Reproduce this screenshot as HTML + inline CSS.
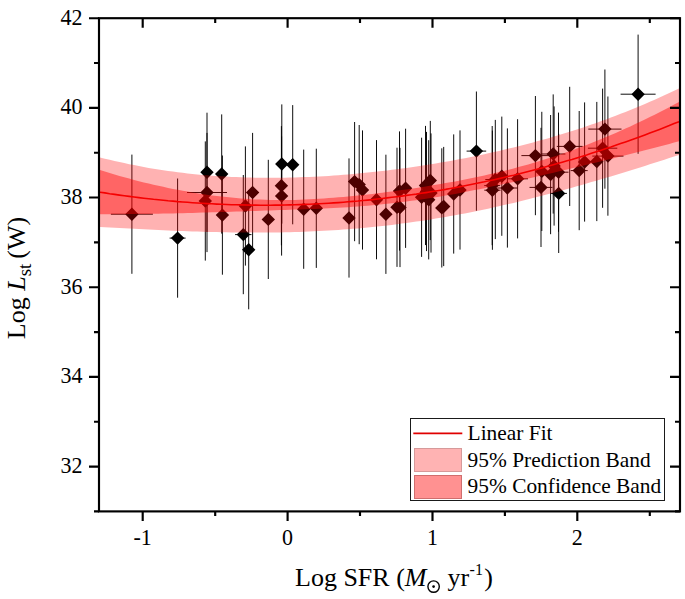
<!DOCTYPE html>
<html><head><meta charset="utf-8"><title>Log Lst vs Log SFR</title>
<style>
html,body{margin:0;padding:0;background:#fff;overflow:hidden;}
svg{display:block;font-family:"Liberation Serif",serif;fill:#000;}
</style></head>
<body>
<svg width="685" height="599" viewBox="0 0 685 599">
<rect width="685" height="599" fill="#fff"/>
<!-- error bars and markers -->
<path d="M131.9 154.6V273.8M110.9 214.2H152.9M177.6 178.5V297.7M169.6 238.1H185.6M207.0 112.7V231.9M221.7 114.4V233.6M207.0 132.9V252.1M187.0 192.5H227.0M205.3 141.4V260.6M222.4 155.5V274.7M252.6 132.9V252.1M245.4 146.4V265.6M243.3 175.0V294.2M235.1 234.6H251.5M248.7 190.1V309.3M268.3 159.8V279.0M281.8 104.4V223.6M292.7 105.1V224.3M281.4 126.1V245.3M281.6 136.4V255.6M303.7 149.6V268.8M316.3 148.7V267.9M349.0 158.4V277.6M354.6 122.0V241.2M359.2 125.0V244.2M362.5 130.4V249.6M376.5 140.1V259.3M385.9 154.7V273.9M399.5 131.4V250.6M405.6 128.7V247.9M397.0 147.7V266.9M400.0 147.9V267.1M421.6 137.7V256.9M425.5 125.9V245.1M426.5 131.9V251.1M428.7 140.2V259.4M430.3 120.9V240.1M431.0 133.4V252.6M441.8 148.3V267.5M443.7 146.9V266.1M453.7 134.4V253.6M460.0 130.4V249.6M476.4 91.5V210.7M466.6 151.1H486.2M492.4 130.6V249.8M484.3 190.2H500.5M495.3 119.9V239.1M485.3 179.5H505.3M501.8 116.6V235.8M507.4 128.4V247.6M497.2 188.0H517.6M517.6 119.2V238.4M507.2 178.8H528.0M535.4 96.0V215.2M521.4 155.6H549.4M541.0 127.8V247.0M529.5 187.4H552.5M553.2 94.4V213.6M541.0 154.0H565.4M558.7 133.8V253.0M550.5 193.4H566.9M569.7 86.8V206.0M556.8 146.4H582.6M579.2 111.0V230.2M570.7 170.6H587.7M584.6 102.4V221.6M596.8 101.9V221.1M604.9 69.5V188.7M588.3 129.1H621.5M602.6 88.6V207.8M587.9 148.2H617.3M607.9 96.5V215.7M592.3 156.1H623.5M638.1 34.6V153.8M620.6 94.2H655.6M492.2 126.0V245.2M484.2 185.6H500.2M550.6 115.0V234.2M558.5 112.6V231.8M548.5 172.2H568.5M554.1 106.4V225.6M541.8 111.8V231.0" stroke="#000" stroke-width="0.95" fill="none"/>
<path d="M131.9 207.5L138.6 214.2L131.9 220.9L125.2 214.2ZM177.6 231.4L184.3 238.1L177.6 244.8L170.9 238.1ZM207.0 165.6L213.7 172.3L207.0 179.0L200.3 172.3ZM221.7 167.3L228.4 174.0L221.7 180.7L215.0 174.0ZM207.0 185.8L213.7 192.5L207.0 199.2L200.3 192.5ZM205.3 194.3L212.0 201.0L205.3 207.7L198.6 201.0ZM222.4 208.4L229.1 215.1L222.4 221.8L215.7 215.1ZM252.6 185.8L259.3 192.5L252.6 199.2L245.9 192.5ZM245.4 199.3L252.1 206.0L245.4 212.7L238.7 206.0ZM243.3 227.9L250.0 234.6L243.3 241.3L236.6 234.6ZM248.7 243.0L255.4 249.7L248.7 256.4L242.0 249.7ZM268.3 212.7L275.0 219.4L268.3 226.1L261.6 219.4ZM281.8 157.3L288.5 164.0L281.8 170.7L275.1 164.0ZM292.7 158.0L299.4 164.7L292.7 171.4L286.0 164.7ZM281.4 179.0L288.1 185.7L281.4 192.4L274.7 185.7ZM281.6 189.3L288.3 196.0L281.6 202.7L274.9 196.0ZM303.7 202.5L310.4 209.2L303.7 215.9L297.0 209.2ZM316.3 201.6L323.0 208.3L316.3 215.0L309.6 208.3ZM349.0 211.3L355.7 218.0L349.0 224.7L342.3 218.0ZM354.6 174.9L361.3 181.6L354.6 188.3L347.9 181.6ZM359.2 177.9L365.9 184.6L359.2 191.3L352.5 184.6ZM362.5 183.3L369.2 190.0L362.5 196.7L355.8 190.0ZM376.5 193.0L383.2 199.7L376.5 206.4L369.8 199.7ZM385.9 207.6L392.6 214.3L385.9 221.0L379.2 214.3ZM399.5 184.3L406.2 191.0L399.5 197.7L392.8 191.0ZM405.6 181.6L412.3 188.3L405.6 195.0L398.9 188.3ZM397.0 200.6L403.7 207.3L397.0 214.0L390.3 207.3ZM400.0 200.8L406.7 207.5L400.0 214.2L393.3 207.5ZM421.6 190.6L428.3 197.3L421.6 204.0L414.9 197.3ZM425.5 178.8L432.2 185.5L425.5 192.2L418.8 185.5ZM426.5 184.8L433.2 191.5L426.5 198.2L419.8 191.5ZM428.7 193.1L435.4 199.8L428.7 206.5L422.0 199.8ZM430.3 173.8L437.0 180.5L430.3 187.2L423.6 180.5ZM431.0 186.3L437.7 193.0L431.0 199.7L424.3 193.0ZM441.8 201.2L448.5 207.9L441.8 214.6L435.1 207.9ZM443.7 199.8L450.4 206.5L443.7 213.2L437.0 206.5ZM453.7 187.3L460.4 194.0L453.7 200.7L447.0 194.0ZM460.0 183.3L466.7 190.0L460.0 196.7L453.3 190.0ZM476.4 144.4L483.1 151.1L476.4 157.8L469.7 151.1ZM492.4 183.5L499.1 190.2L492.4 196.9L485.7 190.2ZM495.3 172.8L502.0 179.5L495.3 186.2L488.6 179.5ZM501.8 169.5L508.5 176.2L501.8 182.9L495.1 176.2ZM507.4 181.3L514.1 188.0L507.4 194.7L500.7 188.0ZM517.6 172.1L524.3 178.8L517.6 185.5L510.9 178.8ZM535.4 148.9L542.1 155.6L535.4 162.3L528.7 155.6ZM541.0 180.7L547.7 187.4L541.0 194.1L534.3 187.4ZM553.2 147.3L559.9 154.0L553.2 160.7L546.5 154.0ZM558.7 186.7L565.4 193.4L558.7 200.1L552.0 193.4ZM569.7 139.7L576.4 146.4L569.7 153.1L563.0 146.4ZM579.2 163.9L585.9 170.6L579.2 177.3L572.5 170.6ZM584.6 155.3L591.3 162.0L584.6 168.7L577.9 162.0ZM596.8 154.8L603.5 161.5L596.8 168.2L590.1 161.5ZM604.9 122.4L611.6 129.1L604.9 135.8L598.2 129.1ZM602.6 141.5L609.3 148.2L602.6 154.9L595.9 148.2ZM607.9 149.4L614.6 156.1L607.9 162.8L601.2 156.1ZM638.1 87.5L644.8 94.2L638.1 100.9L631.4 94.2ZM492.2 178.9L498.9 185.6L492.2 192.3L485.5 185.6ZM550.6 167.9L557.3 174.6L550.6 181.3L543.9 174.6ZM558.5 165.5L565.2 172.2L558.5 178.9L551.8 172.2ZM554.1 159.3L560.8 166.0L554.1 172.7L547.4 166.0ZM541.8 164.7L548.5 171.4L541.8 178.1L535.1 171.4Z" fill="#000"/>
<!-- bands -->
<polygon points="100.0,157.4 104.9,158.7 109.7,159.8 114.6,161.0 119.5,162.1 124.3,163.1 129.2,164.2 134.1,165.1 138.9,166.1 143.8,167.0 148.7,167.9 153.5,168.7 158.4,169.5 163.3,170.2 168.1,170.9 173.0,171.6 177.8,172.2 182.7,172.8 187.6,173.4 192.4,173.9 197.3,174.4 202.2,174.9 207.0,175.3 211.9,175.7 216.8,176.0 221.6,176.3 226.5,176.6 231.4,176.9 236.2,177.1 241.1,177.3 246.0,177.4 250.8,177.6 255.7,177.7 260.6,177.7 265.4,177.8 270.3,177.8 275.2,177.8 280.0,177.7 284.9,177.7 289.8,177.6 294.6,177.4 299.5,177.3 304.4,177.1 309.2,176.9 314.1,176.7 318.9,176.4 323.8,176.2 328.7,175.9 333.5,175.5 338.4,175.2 343.3,174.8 348.1,174.4 353.0,174.0 357.9,173.6 362.7,173.1 367.6,172.6 372.5,172.1 377.3,171.6 382.2,171.0 387.1,170.4 391.9,169.8 396.8,169.2 401.7,168.6 406.5,167.9 411.4,167.2 416.3,166.5 421.1,165.8 426.0,165.0 430.9,164.2 435.7,163.4 440.6,162.6 445.5,161.8 450.3,160.9 455.2,160.0 460.1,159.1 464.9,158.2 469.8,157.2 474.6,156.2 479.5,155.2 484.4,154.2 489.2,153.1 494.1,152.0 499.0,150.9 503.8,149.8 508.7,148.6 513.6,147.5 518.4,146.2 523.3,145.0 528.2,143.7 533.0,142.4 537.9,141.1 542.8,139.8 547.6,138.4 552.5,137.0 557.4,135.5 562.2,134.1 567.1,132.6 572.0,131.0 576.8,129.5 581.7,127.9 586.6,126.2 591.4,124.6 596.3,122.9 601.2,121.1 606.0,119.4 610.9,117.6 615.7,115.7 620.6,113.8 625.5,111.9 630.3,110.0 635.2,108.0 640.1,106.0 644.9,103.9 649.8,101.8 654.7,99.7 659.5,97.5 664.4,95.3 669.3,93.0 674.1,90.7 679.0,88.4 679.0,155.0 674.1,156.5 669.3,158.1 664.4,159.7 659.5,161.2 654.7,162.8 649.8,164.3 644.9,165.9 640.1,167.4 635.2,168.9 630.3,170.4 625.5,171.9 620.6,173.4 615.7,174.9 610.9,176.4 606.0,177.8 601.2,179.3 596.3,180.7 591.4,182.1 586.6,183.5 581.7,184.9 576.8,186.3 572.0,187.7 567.1,189.0 562.2,190.4 557.4,191.7 552.5,193.0 547.6,194.3 542.8,195.6 537.9,196.8 533.0,198.1 528.2,199.3 523.3,200.5 518.4,201.7 513.6,202.9 508.7,204.0 503.8,205.1 499.0,206.2 494.1,207.3 489.2,208.4 484.4,209.4 479.5,210.4 474.6,211.4 469.8,212.4 464.9,213.4 460.1,214.3 455.2,215.2 450.3,216.1 445.5,216.9 440.6,217.8 435.7,218.6 430.9,219.4 426.0,220.2 421.1,220.9 416.3,221.6 411.4,222.3 406.5,223.0 401.7,223.6 396.8,224.3 391.9,224.9 387.1,225.4 382.2,226.0 377.3,226.5 372.5,227.0 367.6,227.5 362.7,228.0 357.9,228.4 353.0,228.8 348.1,229.2 343.3,229.6 338.4,229.9 333.5,230.3 328.7,230.6 323.8,230.8 318.9,231.1 314.1,231.3 309.2,231.5 304.4,231.7 299.5,231.9 294.6,232.1 289.8,232.2 284.9,232.3 280.0,232.4 275.2,232.5 270.3,232.5 265.4,232.6 260.6,232.6 255.7,232.6 250.8,232.6 246.0,232.6 241.1,232.5 236.2,232.5 231.4,232.4 226.5,232.3 221.6,232.3 216.8,232.1 211.9,232.0 207.0,231.9 202.2,231.8 197.3,231.6 192.4,231.4 187.6,231.3 182.7,231.1 177.8,230.9 173.0,230.7 168.1,230.5 163.3,230.3 158.4,230.1 153.5,229.8 148.7,229.6 143.8,229.3 138.9,229.1 134.1,228.8 129.2,228.6 124.3,228.3 119.5,228.1 114.6,227.8 109.7,227.5 104.9,227.2 100.0,226.9" fill="#ff0000" fill-opacity="0.30"/>
<polygon points="100.0,170.1 104.9,171.6 109.7,173.1 114.6,174.5 119.5,175.9 124.3,177.3 129.2,178.6 134.1,179.9 138.9,181.2 143.8,182.4 148.7,183.5 153.5,184.7 158.4,185.8 163.3,186.8 168.1,187.9 173.0,188.9 177.8,189.8 182.7,190.7 187.6,191.6 192.4,192.4 197.3,193.2 202.2,194.0 207.0,194.7 211.9,195.4 216.8,196.0 221.6,196.6 226.5,197.1 231.4,197.6 236.2,198.1 241.1,198.5 246.0,198.8 250.8,199.2 255.7,199.4 260.6,199.6 265.4,199.8 270.3,199.9 275.2,200.0 280.0,200.0 284.9,200.0 289.8,200.0 294.6,199.9 299.5,199.7 304.4,199.5 309.2,199.3 314.1,199.1 318.9,198.8 323.8,198.5 328.7,198.1 333.5,197.7 338.4,197.3 343.3,196.9 348.1,196.4 353.0,196.0 357.9,195.5 362.7,195.0 367.6,194.4 372.5,193.9 377.3,193.3 382.2,192.7 387.1,192.1 391.9,191.4 396.8,190.8 401.7,190.1 406.5,189.4 411.4,188.7 416.3,188.0 421.1,187.2 426.0,186.4 430.9,185.6 435.7,184.8 440.6,184.0 445.5,183.1 450.3,182.3 455.2,181.4 460.1,180.4 464.9,179.5 469.8,178.5 474.6,177.5 479.5,176.5 484.4,175.4 489.2,174.3 494.1,173.2 499.0,172.1 503.8,170.9 508.7,169.7 513.6,168.4 518.4,167.1 523.3,165.8 528.2,164.5 533.0,163.1 537.9,161.6 542.8,160.1 547.6,158.6 552.5,157.1 557.4,155.4 562.2,153.8 567.1,152.1 572.0,150.4 576.8,148.6 581.7,146.8 586.6,144.9 591.4,143.0 596.3,141.1 601.2,139.1 606.0,137.1 610.9,135.0 615.7,132.9 620.6,130.8 625.5,128.6 630.3,126.4 635.2,124.1 640.1,121.8 644.9,119.5 649.8,117.1 654.7,114.7 659.5,112.2 664.4,109.7 669.3,107.2 674.1,104.6 679.0,102.0 679.0,141.3 674.1,142.6 669.3,143.9 664.4,145.2 659.5,146.5 654.7,147.8 649.8,149.0 644.9,150.3 640.1,151.5 635.2,152.8 630.3,154.0 625.5,155.2 620.6,156.5 615.7,157.7 610.9,158.9 606.0,160.1 601.2,161.3 596.3,162.5 591.4,163.6 586.6,164.8 581.7,166.0 576.8,167.2 572.0,168.3 567.1,169.5 562.2,170.6 557.4,171.8 552.5,172.9 547.6,174.1 542.8,175.2 537.9,176.3 533.0,177.5 528.2,178.6 523.3,179.7 518.4,180.8 513.6,181.9 508.7,182.9 503.8,184.0 499.0,185.1 494.1,186.1 489.2,187.1 484.4,188.2 479.5,189.2 474.6,190.1 469.8,191.1 464.9,192.0 460.1,193.0 455.2,193.9 450.3,194.7 445.5,195.6 440.6,196.4 435.7,197.2 430.9,198.0 426.0,198.7 421.1,199.5 416.3,200.2 411.4,200.8 406.5,201.5 401.7,202.1 396.8,202.7 391.9,203.3 387.1,203.8 382.2,204.3 377.3,204.8 372.5,205.3 367.6,205.7 362.7,206.1 357.9,206.5 353.0,206.8 348.1,207.2 343.3,207.5 338.4,207.8 333.5,208.0 328.7,208.3 323.8,208.5 318.9,208.7 314.1,208.9 309.2,209.1 304.4,209.3 299.5,209.5 294.6,209.6 289.8,209.8 284.9,209.9 280.0,210.1 275.2,210.2 270.3,210.4 265.4,210.5 260.6,210.7 255.7,210.9 250.8,211.0 246.0,211.2 241.1,211.4 236.2,211.5 231.4,211.7 226.5,211.9 221.6,212.0 216.8,212.2 211.9,212.3 207.0,212.5 202.2,212.6 197.3,212.8 192.4,212.9 187.6,213.1 182.7,213.2 177.8,213.3 173.0,213.4 168.1,213.5 163.3,213.6 158.4,213.7 153.5,213.8 148.7,213.9 143.8,214.0 138.9,214.0 134.1,214.1 129.2,214.1 124.3,214.2 119.5,214.2 114.6,214.2 109.7,214.2 104.9,214.2 100.0,214.2" fill="#ff0000" fill-opacity="0.43"/>
<polyline points="100.0,192.2 104.9,192.9 109.7,193.7 114.6,194.4 119.5,195.1 124.3,195.7 129.2,196.4 134.1,197.0 138.9,197.6 143.8,198.2 148.7,198.7 153.5,199.3 158.4,199.8 163.3,200.2 168.1,200.7 173.0,201.1 177.8,201.6 182.7,202.0 187.6,202.3 192.4,202.7 197.3,203.0 202.2,203.3 207.0,203.6 211.9,203.8 216.8,204.1 221.6,204.3 226.5,204.5 231.4,204.7 236.2,204.8 241.1,204.9 246.0,205.0 250.8,205.1 255.7,205.1 260.6,205.2 265.4,205.2 270.3,205.2 275.2,205.1 280.0,205.1 284.9,205.0 289.8,204.9 294.6,204.7 299.5,204.6 304.4,204.4 309.2,204.2 314.1,204.0 318.9,203.8 323.8,203.5 328.7,203.2 333.5,202.9 338.4,202.6 343.3,202.2 348.1,201.8 353.0,201.4 357.9,201.0 362.7,200.5 367.6,200.1 372.5,199.6 377.3,199.0 382.2,198.5 387.1,197.9 391.9,197.3 396.8,196.7 401.7,196.1 406.5,195.4 411.4,194.8 416.3,194.1 421.1,193.3 426.0,192.6 430.9,191.8 435.7,191.0 440.6,190.2 445.5,189.4 450.3,188.5 455.2,187.6 460.1,186.7 464.9,185.8 469.8,184.8 474.6,183.8 479.5,182.8 484.4,181.8 489.2,180.7 494.1,179.7 499.0,178.6 503.8,177.5 508.7,176.3 513.6,175.2 518.4,174.0 523.3,172.8 528.2,171.5 533.0,170.3 537.9,169.0 542.8,167.7 547.6,166.3 552.5,165.0 557.4,163.6 562.2,162.2 567.1,160.8 572.0,159.4 576.8,157.9 581.7,156.4 586.6,154.9 591.4,153.3 596.3,151.8 601.2,150.2 606.0,148.6 610.9,147.0 615.7,145.3 620.6,143.6 625.5,141.9 630.3,140.2 635.2,138.5 640.1,136.7 644.9,134.9 649.8,133.1 654.7,131.2 659.5,129.4 664.4,127.5 669.3,125.6 674.1,123.6 679.0,121.7" fill="none" stroke="#f50000" stroke-width="1.6"/>
<!-- frame -->
<rect x="99.0" y="18.2" width="581.0" height="493.2" fill="none" stroke="#000" stroke-width="2.15"/>
<path d="M89.0 18.2H99.0M670.0 18.2H680.0M89.0 107.9H99.0M670.0 107.9H680.0M89.0 197.5H99.0M670.0 197.5H680.0M89.0 287.2H99.0M670.0 287.2H680.0M89.0 376.9H99.0M670.0 376.9H680.0M89.0 466.6H99.0M670.0 466.6H680.0M94.0 63.0H99.0M675.0 63.0H680.0M94.0 152.7H99.0M675.0 152.7H680.0M94.0 242.4H99.0M675.0 242.4H680.0M94.0 332.1H99.0M675.0 332.1H680.0M94.0 421.7H99.0M675.0 421.7H680.0M94.0 511.4H99.0M675.0 511.4H680.0M142.7 511.4V520.9M142.7 18.2V27.7M287.6 511.4V520.9M287.6 18.2V27.7M432.5 511.4V520.9M432.5 18.2V27.7M577.3 511.4V520.9M577.3 18.2V27.7M215.2 511.4V516.1M215.2 18.2V22.9M360.0 511.4V516.1M360.0 18.2V22.9M504.9 511.4V516.1M504.9 18.2V22.9M649.8 511.4V516.1M649.8 18.2V22.9" stroke="#000" stroke-width="2.15" fill="none"/>
<!-- tick labels -->
<g font-size="22"><text transform="translate(82.6,24.6) scale(1,1.04)" text-anchor="end">42</text><text transform="translate(82.6,114.3) scale(1,1.04)" text-anchor="end">40</text><text transform="translate(82.6,203.9) scale(1,1.04)" text-anchor="end">38</text><text transform="translate(82.6,293.6) scale(1,1.04)" text-anchor="end">36</text><text transform="translate(82.6,383.3) scale(1,1.04)" text-anchor="end">34</text><text transform="translate(82.6,473.0) scale(1,1.04)" text-anchor="end">32</text><text transform="translate(142.7,545) scale(1,1.04)" text-anchor="middle">-1</text><text transform="translate(287.6,545) scale(1,1.04)" text-anchor="middle">0</text><text transform="translate(432.5,545) scale(1,1.04)" text-anchor="middle">1</text><text transform="translate(577.3,545) scale(1,1.04)" text-anchor="middle">2</text></g>
<!-- axis titles -->
<text x="295" y="586" font-size="26">Log SFR (<tspan font-style="italic">M</tspan></text>
<circle cx="433.6" cy="586.6" r="5.7" fill="none" stroke="#000" stroke-width="1.4"/><circle cx="433.6" cy="586.6" r="1.35" fill="#000"/>
<text x="447.6" y="586" font-size="26">yr<tspan font-size="16" dy="-10.8" dx="0.3">-1</tspan><tspan dy="10.8" dx="1.3">)</tspan></text>
<text transform="translate(25,339.2) rotate(-90)" font-size="26">Log <tspan font-style="italic">L</tspan><tspan font-size="19" dy="6">st</tspan><tspan dy="-6" dx="-1.5"> (W)</tspan></text>
<!-- legend -->
<rect x="410.5" y="418.5" width="254" height="82" fill="#fff" stroke="#1a1a1a" stroke-width="1"/>
<line x1="413.3" y1="433.4" x2="462.3" y2="433.4" stroke="#e00000" stroke-width="1.7"/>
<rect x="414.5" y="448.5" width="47" height="23" fill="#ffb3b3" stroke="#d69a9a" stroke-width="1"/>
<rect x="414.5" y="475.5" width="47" height="23" fill="#ff9191" stroke="#cf6e6e" stroke-width="1"/>
<g font-size="21.4">
<text x="467.6" y="440">Linear Fit</text>
<text x="467.6" y="466.6">95% Prediction Band</text>
<text x="467.6" y="493.4">95% Confidence Band</text>
</g>
</svg>
</body></html>
